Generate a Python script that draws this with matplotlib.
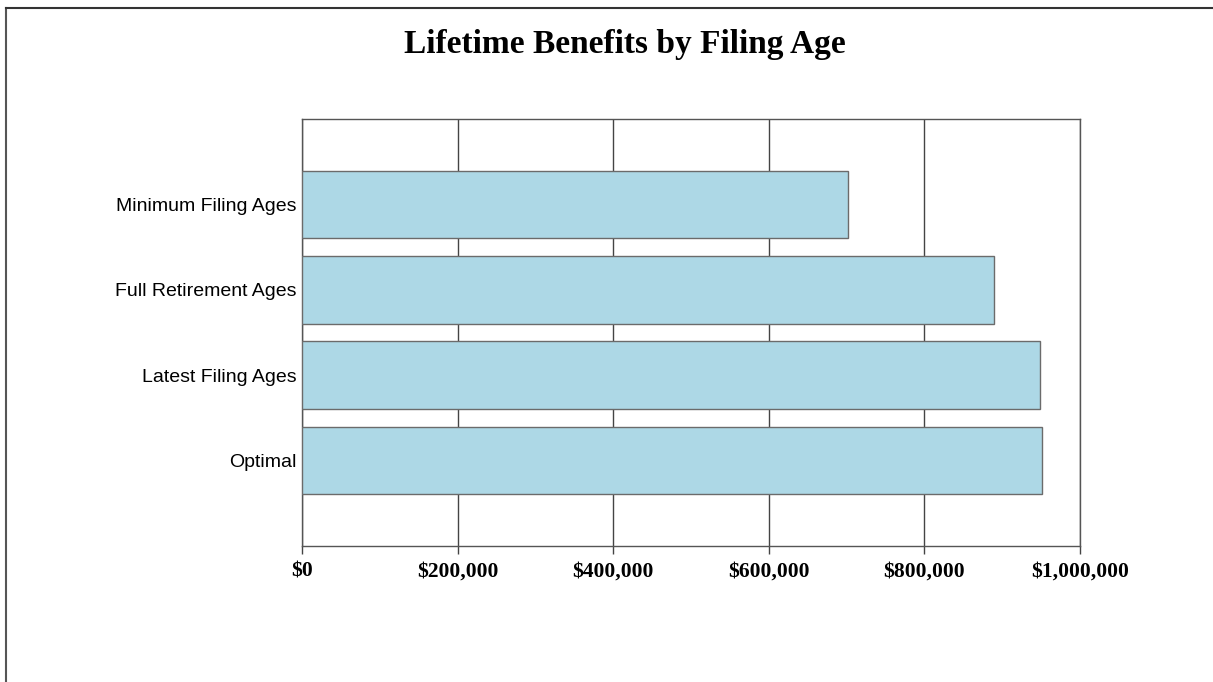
import matplotlib
matplotlib.use("Agg")
import matplotlib.pyplot as plt
from matplotlib.lines import Line2D
from matplotlib.ticker import FuncFormatter

# - Data ---------------------------------------------------------------------
strategies = ["Minimum Filing Ages", "Full Retirement Ages", "Latest Filing Ages", "Optimal"]
lifetime_benefits = [702000, 890000, 948000, 951000]
x_ticks = [0, 200000, 400000, 600000, 800000, 1000000]

W, H = 1213, 682
fig = plt.figure(figsize=(W / 100, H / 100), dpi=100)
fig.patch.set_facecolor("white")

# axes box placed in pixel terms
ax = fig.add_axes([302 / W, 1 - 546 / H, (1080 - 302) / W, (546 - 119) / H])

ypos = list(range(len(strategies)))
ax.barh(ypos, lifetime_benefits, height=0.79, color="#ADD8E6",
        edgecolor="#6b6b6b", linewidth=1.0, zorder=3)

ax.set_xlim(0, 1000000)
ax.set_ylim(3 + 1.0, -1.0)
ax.set_xticks(x_ticks)
ax.xaxis.set_major_formatter(FuncFormatter(lambda v, p: f"${v:,.0f}"))
ax.set_yticks(ypos)
ax.set_yticklabels(strategies)

ax.grid(axis="x", color="#444444", linewidth=1.0, zorder=0)
ax.grid(axis="y", visible=False)
ax.set_axisbelow(True)

for s in ax.spines.values():
    s.set_color("#555555")
    s.set_linewidth(1.0)

ax.tick_params(axis="x", length=6, width=1.0, color="#444444", pad=5,
               labelsize=15.5)
ax.tick_params(axis="y", length=0, pad=4, labelsize=14)
for lbl in ax.get_xticklabels():
    lbl.set_fontfamily("Liberation Serif")
    lbl.set_fontweight("bold")
for lbl in ax.get_yticklabels():
    lbl.set_fontfamily("Liberation Sans")

fig.text(625 / W, 1 - 44 / H, "Lifetime Benefits by Filing Age",
         ha="center", va="center", fontsize=24, fontweight="bold",
         family="Liberation Serif")

# outer frame (left and top edges)
fig.add_artist(Line2D([5.5 / W, 5.5 / W], [0, 1 - 8 / H], transform=fig.transFigure,
                      color="#555555", linewidth=1.5))
fig.add_artist(Line2D([5.5 / W, 1], [1 - 8 / H, 1 - 8 / H], transform=fig.transFigure,
                      color="#333333", linewidth=1.5))

fig.savefig("out.png", dpi=100)
